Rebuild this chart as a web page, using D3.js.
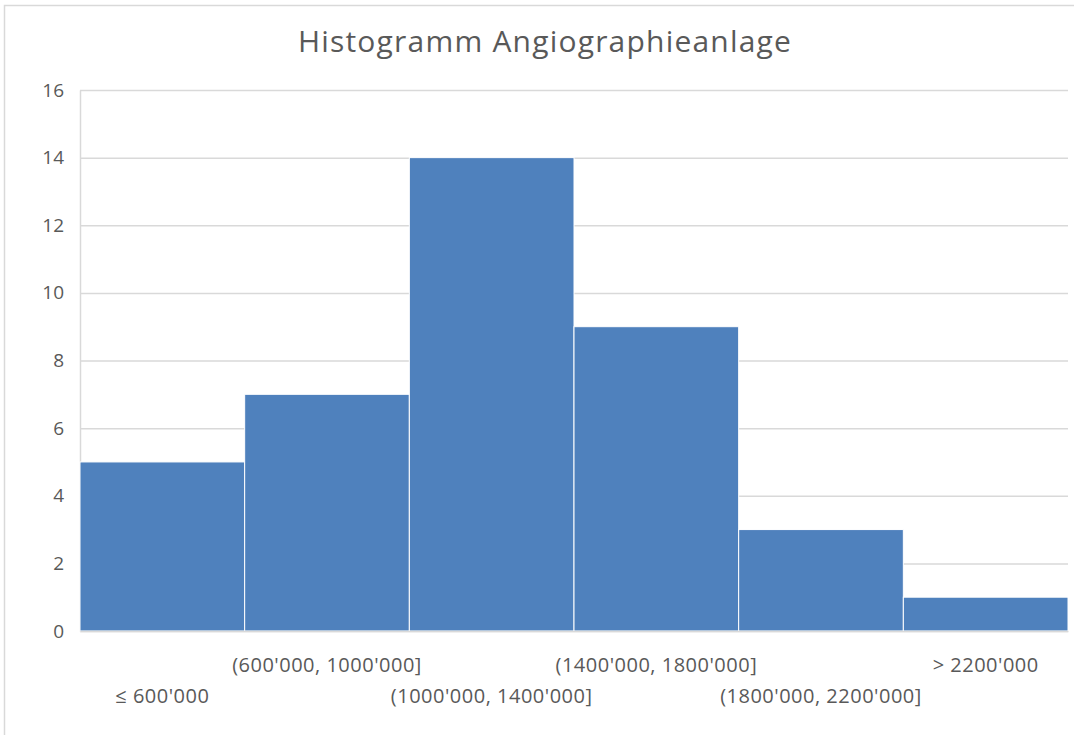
<!DOCTYPE html>
<html><head><meta charset="utf-8">
<script src="https://cdn.jsdelivr.net/npm/d3@7"></script>
<style>
body{margin:0;background:#fff;}
svg{display:block;}
text{font-family:"Open Sans",sans-serif;fill:#595959;}
</style></head><body>
<svg id="c" width="1074" height="735"></svg>
<script>
const categories = ["≤ 600'000","(600'000, 1000'000]","(1000'000, 1400'000]","(1400'000, 1800'000]","(1800'000, 2200'000]","> 2200'000"];
const counts = [5, 7, 14, 9, 3, 1];
const yTicks = [0, 2, 4, 6, 8, 10, 12, 14, 16];
const title = "Histogramm Angiographieanlage";

const svg = d3.select("#c");
const m = {left: 80, right: 1068, top: 90, bottom: 631};

svg.append("rect").attr("x",4.5).attr("y",5.5).attr("width",1080).attr("height",740)
  .attr("fill","none").attr("stroke","#d9d9d9").attr("stroke-width",1.5);

const x = d3.scaleBand().domain(categories).range([m.left, m.right]).padding(0);
const y = d3.scaleLinear().domain([0,16]).range([m.bottom, m.top]);

// gridlines
svg.append("g").selectAll("line").data(yTicks).join("line")
  .attr("x1", m.left).attr("x2", m.right)
  .attr("y1", d=>y(d)+0.5).attr("y2", d=>y(d)+0.5)
  .attr("stroke","#d9d9d9").attr("stroke-width",1.5);

// y axis
const ya = svg.append("g").attr("transform",`translate(${m.left},0)`)
  .call(d3.axisLeft(y).tickValues(yTicks).tickSize(0).tickPadding(16));
ya.select(".domain").attr("stroke","#d9d9d9").attr("stroke-width",1.5);
ya.selectAll("text").attr("font-size",19).style("fill","#595959");

// bars
svg.append("g").selectAll("rect").data(counts).join("rect")
  .attr("x",(d,i)=>x(categories[i]))
  .attr("y",d=>y(d))
  .attr("width",x.bandwidth())
  .attr("height",d=>y(0)-y(d))
  .attr("fill","#4f81bd").attr("stroke","#fff").attr("stroke-width",1);

// x axis
const xa = svg.append("g").attr("transform",`translate(0,${m.bottom})`)
  .call(d3.axisBottom(x).tickSize(0));
xa.select(".domain").attr("stroke","#d9d9d9").attr("stroke-width",1.5);
xa.selectAll("text").attr("font-size",20).style("fill","#595959")
  .attr("letter-spacing","0.5px")
  .attr("y",(d,i)=> i%2===1 ? 41 : 72).attr("dy","0");

svg.append("text").attr("x",545).attr("y",52).attr("text-anchor","middle")
  .attr("font-size",30).attr("letter-spacing","1.2px").text(title);
</script></body></html>
